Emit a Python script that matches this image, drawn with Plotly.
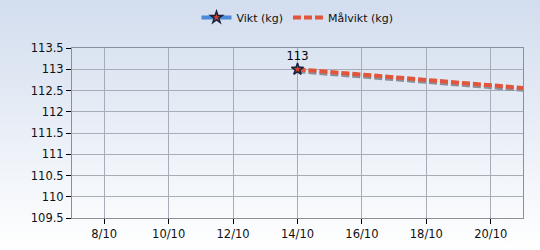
import plotly.graph_objects as go
import base64

vikt_dates = ["2013-10-14"]
vikt_values = [113.0]

malvikt_dates = ["2013-10-14", "2013-10-15", "2013-10-16", "2013-10-17",
                 "2013-10-18", "2013-10-19", "2013-10-20", "2013-10-21"]
malvikt_values = [113.0, 112.94, 112.87, 112.81, 112.75, 112.69, 112.62, 112.56]

tick_dates = ["2013-10-08", "2013-10-10", "2013-10-12", "2013-10-14",
              "2013-10-16", "2013-10-18", "2013-10-20"]
tick_labels = ["8/10", "10/10", "12/10", "14/10", "16/10", "18/10", "20/10"]
y_ticks = [109.5, 110, 110.5, 111, 111.5, 112, 112.5, 113, 113.5]
y_labels = ["109.5", "110", "110.5", "111", "111.5", "112", "112.5", "113", "113.5"]

svg = ('<svg xmlns="http://www.w3.org/2000/svg" width="540" height="250">'
       '<defs><linearGradient id="g" x1="0" y1="0" x2="0" y2="1">'
       '<stop offset="0" stop-color="#d2ddee"/><stop offset="1" stop-color="#ffffff"/>'
       '</linearGradient></defs><rect width="540" height="250" fill="url(#g)"/></svg>')
bg_uri = "data:image/svg+xml;base64," + base64.b64encode(svg.encode()).decode()

shadow_offset = 0.045
font = dict(family="DejaVu Sans", size=11.5, color="#111111")

fig = go.Figure()

# shadow for target line
fig.add_trace(go.Scatter(
    x=malvikt_dates, y=[v - shadow_offset for v in malvikt_values],
    mode="lines", line=dict(color="#8a8f99", width=4, dash="8px,3px"),
    showlegend=False, hoverinfo="skip"))

fig.add_trace(go.Scatter(
    x=malvikt_dates, y=malvikt_values, name="Målvikt (kg)",
    mode="lines", line=dict(color="#e2553a", width=4, dash="8px,3px"),
))

fig.add_trace(go.Scatter(
    x=vikt_dates, y=vikt_values, name="Vikt (kg)",
    mode="lines+markers+text", text=["113"], textposition="top center",
    textfont=dict(family="DejaVu Sans", size=11.5, color="#000000"),
    line=dict(color="#4a8ad8", width=4),
    marker=dict(symbol="star", size=9, color="#d0402a",
                line=dict(color="#1a2240", width=1.5)),
))

fig.update_layout(
    width=540, height=250,
    margin=dict(l=72, r=17, t=48, b=32, autoexpand=False),
    paper_bgcolor="rgba(0,0,0,0)",
    plot_bgcolor="rgba(0,0,0,0)",
    font=font,
    showlegend=True,
    legend=dict(orientation="h", x=0.5, xanchor="center", y=1.18, yanchor="middle",
                bgcolor="rgba(0,0,0,0)", font=dict(family="DejaVu Sans", size=11, color="#111111"),
                traceorder="reversed", itemwidth=30),
    images=[dict(source=bg_uri, xref="paper", yref="paper", x=-72/451, y=1+48/170,
                 sizex=540/451, sizey=250/170, sizing="stretch",
                 xanchor="left", yanchor="top", layer="below")],
)

fig.update_xaxes(
    type="date", range=["2013-10-07", "2013-10-21"],
    tickvals=tick_dates, ticktext=tick_labels,
    showgrid=True, gridcolor="#a7adb8", gridwidth=1,
    showline=True, linecolor="#8a8f99", linewidth=1, mirror=True,
    ticks="outside", ticklen=5, tickcolor="#000000",
    zeroline=False, tickfont=font,
)
fig.update_yaxes(
    range=[109.5, 113.5], tickvals=y_ticks, ticktext=y_labels,
    showgrid=True, gridcolor="#a7adb8", gridwidth=1,
    showline=True, linecolor="#8a8f99", linewidth=1, mirror=True,
    ticks="outside", ticklen=5, tickcolor="#000000",
    zeroline=False, tickfont=font,
)

fig.write_html("out.html")
